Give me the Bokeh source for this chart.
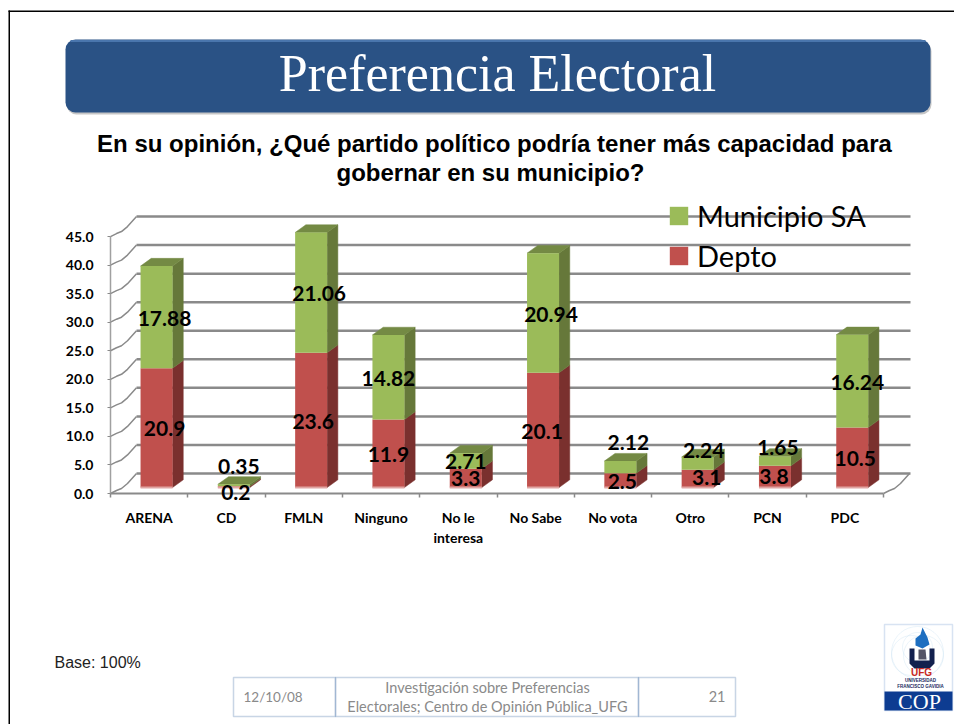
from bokeh.embed import file_html
from bokeh.resources import INLINE
from bokeh.plotting import figure
from bokeh.core.properties import value
from bokeh.models import (BoxAnnotation, ColumnDataSource, FixedTicker, Label, LabelSet, Legend, LegendItem,
                          LinearAxis, NumeralTickFormatter, PolyAnnotation, Range1d)
import math

# ---------- data ----------
categories = ["ARENA", "CD", "FMLN", "Ninguno", "No le\ninteresa", "No Sabe", "No vota", "Otro", "PCN", "PDC"]
depto = [20.9, 0.2, 23.6, 11.9, 3.3, 20.1, 2.5, 3.1, 3.8, 10.5]
municipio = [17.88, 0.35, 21.06, 14.82, 2.71, 20.94, 2.12, 2.24, 1.65, 16.24]
y_ticks = [0, 5, 10, 15, 20, 25, 30, 35, 40, 45]
# hand placement of data labels, px from the centre of their segment (right, down)
depto_dx = [8, 2, 2, 0, 0, -1, 2, 9, -1, 3]
depto_dy = [1, 6, 1, 1, 0, 1, 1, -1, 0, 1]
muni_dx = [8, 5, 8, 0, 0, 8, 8, 6, 3, 5]
muni_dy = [1, -19, 1, 1, 1, 2, -25, -13, -14, 1]

W, H = 954, 724
AX_X, AX_Y, BAR_Y, WALL_Y = 110, 493, 487, 473   # page px of the axes, the bar feet and the back wall floor
PX_CAT, PX_VAL = 77.3, 5.71
BAR_W = 32 / PX_CAT
BAR_SHIFT = 7.4 / PX_CAT
DX, DY = 10.7 / PX_CAT, 7.7 / PX_VAL
GREEN, GREEN_S, GREEN_T = "#9bbb59", "#66783a", "#748a44"
RED, RED_S, RED_T = "#c0504d", "#7a302e", "#9a403d"
GRID = "#8a8a8a"


def vrange(zero_y):
    return Range1d((zero_y - H) / PX_VAL, zero_y / PX_VAL)


p = figure(width=W, height=H, output_backend="svg", toolbar_location=None,
           x_range=Range1d(-AX_X / PX_CAT, (W - AX_X) / PX_CAT),
           y_range=vrange(BAR_Y),
           y_axis_location=None, x_axis_location=None,
           min_border_left=0, min_border_right=0, min_border_top=0, min_border_bottom=0,
           outline_line_color=None, background_fill_color="white", border_fill_color="white")
p.grid.visible = False
p.extra_y_ranges = {"axis": vrange(AX_Y), "wall": vrange(WALL_Y)}

# ---------- axes ----------
n = len(categories)
xa = LinearAxis(fixed_location=(BAR_Y - AX_Y) / PX_VAL,
                ticker=FixedTicker(ticks=[i + .5 for i in range(n)], minor_ticks=list(range(n + 1))))
xa.major_label_overrides = {i + .5: c for i, c in enumerate(categories)}
xa.bounds = (0, n)
xa.major_tick_line_color = None
xa.minor_tick_line_color = GRID
xa.minor_tick_line_width = 1.5
xa.minor_tick_out = 4
xa.minor_tick_in = 0
xa.axis_line_color = GRID
xa.axis_line_width = 2
xa.major_label_standoff = 9
xa.major_label_text_font = "Lato"
xa.major_label_text_font_style = "bold"
xa.major_label_text_font_size = "14px"
xa.major_label_text_color = "black"
p.add_layout(xa, "below")

ya = LinearAxis(y_range_name="axis", ticker=FixedTicker(ticks=y_ticks), fixed_location=0,
                formatter=NumeralTickFormatter(format="0.0"), bounds=(0, 45))
ya.axis_line_color = "#a0a0a0"
ya.axis_line_width = 1.5
ya.major_tick_line_color = GRID
ya.major_tick_in = 0
ya.major_tick_out = 3
ya.minor_tick_line_color = None
ya.major_label_standoff = 14
ya.major_label_text_font = "Lato"
ya.major_label_text_font_style = "bold"
ya.major_label_text_font_size = "14px"
ya.major_label_text_color = "black"
p.add_layout(ya, "left")

# ---------- back wall and side wall ----------
x_end = 800 / PX_CAT
wall_x0 = 26 / PX_CAT
p.segment(x0=[wall_x0] * len(y_ticks), x1=[x_end] * len(y_ticks), y0=y_ticks, y1=y_ticks,
          y_range_name="wall", line_color=GRID, line_width=2.5)
# small stepped connectors from the axis to the back wall
step_x = [0, 6, 11, 17, 26]
step_y = [0, 3, 5, 10, 20]
for v in y_ticks:
    p.line([s / PX_CAT for s in step_x], [v + s / PX_VAL for s in step_y],
           y_range_name="axis", line_color=GRID, line_width=1.5)
p.line([n + s / PX_CAT for s in step_x], [s / PX_VAL for s in step_y],
       y_range_name="axis", line_color=GRID, line_width=1.5)

# ---------- bars ----------
xs = [i + .5 + BAR_SHIFT for i in range(n)]
tops = [a + b for a, b in zip(depto, municipio)]
L = [x - BAR_W / 2 for x in xs]
R = [x + BAR_W / 2 for x in xs]


def sides(bot, top):
    return ([[r, r + DX, r + DX, r] for r in R],
            [[b, b + DY, t + DY, t] for b, t in zip(bot, top)])


def tops_of(top):
    return ([[l, l + DX, r + DX, r] for l, r in zip(L, R)],
            [[t, t + DY, t + DY, t] for t in top])


zeros = [0] * n
sx, sy = sides(zeros, depto)
p.patches(sx, sy, fill_color=RED_S, line_color=RED_S, line_width=.5)
sx, sy = sides(depto, tops)
p.patches(sx, sy, fill_color=GREEN_S, line_color=GREEN_S, line_width=.5)
tx, ty = tops_of(tops)
p.patches(tx, ty, fill_color=GREEN_T, line_color=GREEN_T, line_width=.5)
r_red = p.vbar(x=xs, width=BAR_W, bottom=zeros, top=depto, fill_color=RED, line_color=None)
r_green = p.vbar(x=xs, width=BAR_W, bottom=depto, top=tops, fill_color=GREEN, line_color=None)
p.segment(x0=L, x1=R, y0=zeros, y1=zeros, line_color="#e0a5a3", line_width=2)

# ---------- data labels ----------
lab_x, lab_y, lab_t = [], [], []
for i in range(n):
    lab_x.append(xs[i] + depto_dx[i] / PX_CAT)
    lab_y.append(depto[i] / 2 - depto_dy[i] / PX_VAL)
    lab_t.append(str(depto[i]))
    lab_x.append(xs[i] + muni_dx[i] / PX_CAT)
    lab_y.append(depto[i] + municipio[i] / 2 - muni_dy[i] / PX_VAL)
    lab_t.append(str(municipio[i]))
p.add_layout(LabelSet(x="x", y="y", text="t", source=ColumnDataSource(dict(x=lab_x, y=lab_y, t=lab_t)),
                      text_font=value("Lato"), text_font_style="bold", text_font_size="21px", text_color="black",
                      text_align="center", text_baseline="middle"))

# ---------- legend ----------
legend = Legend(items=[LegendItem(label="Municipio SA", renderers=[r_green]),
                       LegendItem(label="Depto", renderers=[r_red])],
                location=(667, H - 273), orientation="vertical",
                background_fill_alpha=0, border_line_color=None, padding=0, margin=0,
                glyph_width=23, glyph_height=23, label_standoff=7, spacing=5,
                label_text_font="Lato", label_text_font_size="29px", label_text_color="black",
                label_height=34)
p.add_layout(legend)


# ---------- slide furniture, page px ----------
def box(x0, y0, x1, y1, fill, line=None, lw=1, radius=0, alpha=1):
    p.add_layout(BoxAnnotation(left=x0, right=x1, top=y0, bottom=y1,
                               left_units="canvas", right_units="canvas", top_units="canvas", bottom_units="canvas",
                               fill_color=fill, fill_alpha=alpha if fill else 0, line_color=line, line_width=lw,
                               border_radius=radius, level="annotation"))


def txt(x, y, s, font, size, color="black", style="normal", align="center"):
    p.add_layout(Label(x=x, y=H - y, x_units="screen", y_units="screen", text=s, text_font=font,
                       text_font_size=f"{size}px", text_font_style=style, text_color=color,
                       text_align=align, text_baseline="middle", level="annotation"))


def poly(pts, fill=None, line=None, lw=1, alpha=1):
    p.add_layout(PolyAnnotation(xs=[a for a, b in pts], ys=[b for a, b in pts],
                                xs_units="canvas", ys_units="canvas",
                                fill_color=fill, fill_alpha=alpha if fill else 0,
                                line_color=line, line_width=lw, level="annotation"))


# outer slide border
box(8, 10, 954, 11.5, "black")
box(8, 10, 9.5, 724, "black")

# banner
box(66, 41, 931, 114, "#b8b8b8", radius=10, alpha=.8)
box(65, 39, 930, 112, "#2a5285", radius=10)
box(70, 39.5, 925, 41.5, "#4a76ad")
txt(497, 73, "Preferencia Electoral", "Liberation Serif", 52, "white")

# question
txt(494, 143, "En su opinión, ¿Qué partido político podría tener más capacidad para", "Liberation Sans", 24, style="bold")
txt(490, 172, "gobernar en su municipio?", "Liberation Sans", 24, style="bold")

txt(54, 662, "Base: 100%", "Liberation Sans", 16, "#222222", align="left")

# footer table
for a, b in [(233, 335), (335, 638), (638, 735)]:
    box(a, 677, b, 716, None, line="#4a74a8", lw=1.5)
txt(243, 696, "12/10/08", "Lato", 13.5, "#8a8a8a", align="left")
txt(487, 687, "Investigación sobre Preferencias", "Lato", 14.5, "#8a8a8a")
txt(487, 706, "Electorales; Centro de Opinión Pública_UFG", "Lato", 14.5, "#8a8a8a")
txt(725, 696, "21", "Lato", 14.5, "#8a8a8a", align="right")

# logo
box(884, 624, 952, 710, "white", line="#7fa3d3", lw=1.5)
for r, ox, oy in [(26, 0, 0), (20, -6, 3), (20, 6, 3), (15, 0, -5)]:
    poly([(917 + ox + r * math.cos(k * math.pi / 18), 652 + oy + r * math.sin(k * math.pi / 18)) for k in range(36)],
         line="#bcdcee", lw=1)
poly([(922, 627), (927, 637), (929, 644), (922, 648), (915, 645), (915, 638), (920, 634)], fill="#1d6ec0")
poly([(909, 648), (914, 648), (914, 660), (929, 660), (929, 648), (934, 648), (934, 663), (929, 668), (914, 668), (909, 663)],
     fill="#12204e")
poly([(918, 649), (925, 649), (926, 659), (918, 659)], fill="#555566")
txt(921, 672, "UFG", "Liberation Sans", 10, "#c8281e", style="bold")
txt(920, 680, "UNIVERSIDAD", "Liberation Sans", 4.5, "#1a2a60", style="bold")
txt(920, 686, "FRANCISCO GAVIDIA", "Liberation Sans", 4.5, "#1a2a60", style="bold")
box(884, 691, 952, 710, "#0d3c91")
txt(919, 701, "COP", "Liberation Serif", 22, "white")

open("out.html", "w").write(file_html(p, INLINE))
